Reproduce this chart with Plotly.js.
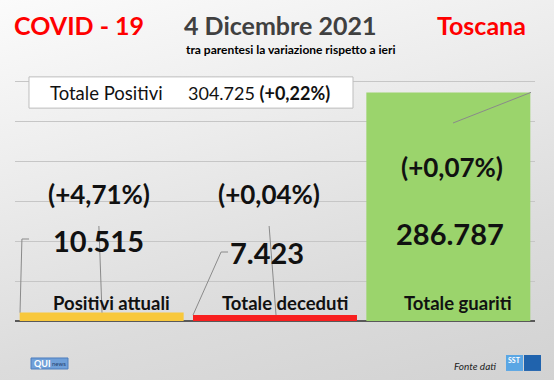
<!DOCTYPE html>
<html>
<head>
<meta charset="utf-8">
<script src="https://cdn.plot.ly/plotly-3.0.1.min.js"></script>
<style>
  html, body { margin: 0; padding: 0; }
  body { width: 554px; height: 380px; overflow: hidden;
         background: linear-gradient(165deg, #fbfbfb 0%, #ececec 35%, #dcdcdc 70%, #d2d2d2 100%); }
  #chart { width: 554px; height: 380px; }
</style>
</head>
<body>
<div id="chart"></div>
<script>
// ---- data ----
const categories = ['Positivi attuali', 'Totale deceduti', 'Totale guariti'];
const values = [10515, 7423, 286787];
const valueLabels = ['10.515', '7.423', '286.787'];
const variations = ['(+4,71%)', '(+0,04%)', '(+0,07%)'];
const barColors = ['#f8c83c', '#f81f1f', '#9bd46c'];
const totalLabel = 'Totale Positivi';
const totalValue = '304.725';
const totalVariation = '(+0,22%)';
const titleLeft = 'COVID - 19';
const titleDate = '4 Dicembre 2021';
const titleRegion = 'Toscana';
const subtitle = 'tra parentesi la variazione rispetto a ieri';

const FONT = 'Lato, "Open Sans", sans-serif';

const trace = {
  type: 'bar',
  x: categories,
  y: values,
  marker: { color: barColors, line: { width: 0 } },
  hoverinfo: 'skip'
};

const pctY = [0.455, 0.455, 0.552];
const pctShift = [-3, -6, 4];
const valY = [0.290, 0.247, 0.315];
const valShift = [-3, -8, 2];

function ann(o) { return Object.assign({ showarrow: false, xanchor: 'center', yanchor: 'middle' }, o); }

const annotations = [];
categories.forEach((c, i) => {
  annotations.push(ann({ x: c, xref: 'x', y: 0.0645, yref: 'paper', text: '<b>' + c + '</b>',
    xshift: 10, font: { family: FONT, size: 18.5, color: '#111' } }));
  annotations.push(ann({ x: c, xref: 'x', y: pctY[i], yref: 'paper', text: '<b>' + variations[i] + '</b>',
    xshift: pctShift[i], font: { family: FONT, size: 26, color: '#111' } }));
  annotations.push(ann({ x: c, xref: 'x', y: valY[i], yref: 'paper', text: '<b>' + valueLabels[i] + '</b>',
    xshift: valShift[i], font: { family: FONT, size: 29, color: '#111' } }));
});

annotations.push(
  ann({ x: 0.1231, y: 1.061, xref: 'paper', yref: 'paper', text: '<b>' + titleLeft + '</b>',
    font: { family: FONT, size: 25, color: '#ff0000' } }),
  ann({ x: 0.5087, y: 1.061, xref: 'paper', yref: 'paper', text: '<b>' + titleDate + '</b>',
    font: { family: FONT, size: 25, color: '#404040' } }),
  ann({ x: 0.8962, y: 1.061, xref: 'paper', yref: 'paper', text: '<b>' + titleRegion + '</b>',
    font: { family: FONT, size: 25, color: '#ff0000' } }),
  ann({ x: 0.5308, y: 0.974, xref: 'paper', yref: 'paper', text: '<b>' + subtitle + '</b>',
    font: { family: FONT, size: 12, color: '#000' } }),
  ann({ x: 0.176, y: 0.817, xref: 'paper', yref: 'paper', text: totalLabel,
    font: { family: FONT, size: 18.5, color: '#111' } }),
  ann({ x: 0.469, y: 0.817, xref: 'paper', yref: 'paper', text: totalValue + ' <b>' + totalVariation + '</b>',
    font: { family: FONT, size: 18, color: '#111' } }),
  ann({ x: 0.8837, y: -0.161, xref: 'paper', yref: 'paper', text: '<i>Fonte dati</i>',
    font: { family: FONT, size: 10, color: '#222' } }),
  ann({ x: 0.0520, y: -0.152, xref: 'paper', yref: 'paper', text: '<b>QUI</b>',
    font: { family: FONT, size: 9, color: '#ffffff' } }),
  ann({ x: 0.0850, y: -0.154, xref: 'paper', yref: 'paper', text: 'news',
    font: { family: FONT, size: 6, color: '#24406e' } }),
  ann({ x: 0.9605, y: -0.140, xref: 'paper', yref: 'paper', text: '<b>SST</b>',
    font: { family: FONT, size: 7, color: '#ffffff' } })
);

// leader lines (category units / data units)
const lineStyle = { color: '#8a8a8a', width: 1 };
const shapes = [
  { type: 'rect', xref: 'paper', yref: 'paper', x0: 0.0269, x1: 0.65, y0: 0.763, y1: 0.875,
    fillcolor: '#ffffff', line: { color: '#bdbdbd', width: 1 }, layer: 'above' },
  // Positivi attuali
  { type: 'line', xref: 'x', yref: 'y', x0: -0.460, x1: -0.419, y0: 102867, y1: 102867, line: lineStyle },
  { type: 'line', xref: 'x', yref: 'y', x0: -0.460, x1: -0.471, y0: 102867, y1: values[0], line: lineStyle },
  { type: 'line', xref: 'x', yref: 'y', x0: -0.016, x1: 0.002, y0: 119176, y1: values[0], line: lineStyle },
  // Totale deceduti
  { type: 'line', xref: 'x', yref: 'y', x0: 0.689, x1: 0.729, y0: 86559, y1: 86559, line: lineStyle },
  { type: 'line', xref: 'x', yref: 'y', x0: 0.689, x1: 0.527, y0: 86559, y1: values[1], line: lineStyle },
  { type: 'line', xref: 'x', yref: 'y', x0: 0.966, x1: 1.006, y0: 119176, y1: values[1], line: lineStyle },
  // Totale guariti
  { type: 'line', xref: 'x', yref: 'y', x0: 2.027, x1: 2.477, y0: 248387, y1: values[2], line: lineStyle },
  // logos
  { type: 'rect', xref: 'paper', yref: 'paper', x0: 0.0308, x1: 0.1019, y0: -0.172, y1: -0.1326,
    fillcolor: '#6f9fd8', line: { color: '#4d7dbd', width: 1 }, layer: 'above' },
  { type: 'rect', xref: 'paper', yref: 'paper', x0: 0.9442, x1: 0.9769, y0: -0.179, y1: -0.1219,
    fillcolor: '#5aa6e4', line: { width: 0 }, layer: 'above' },
  { type: 'rect', xref: 'paper', yref: 'paper', x0: 0.9788, x1: 1.0115, y0: -0.179, y1: -0.1219,
    fillcolor: '#2063ad', line: { width: 0 }, layer: 'above' }
];

const layout = {
  width: 554, height: 380,
  margin: { l: 15, r: 19, t: 42, b: 59, pad: 0 },
  paper_bgcolor: 'rgba(0,0,0,0)',
  plot_bgcolor: 'rgba(0,0,0,0)',
  showlegend: false,
  bargap: 0.054,
  xaxis: { type: 'category', range: [-0.5, 2.5], showgrid: false, showticklabels: false,
           ticks: '', zeroline: false, showline: false, fixedrange: true },
  yaxis: { range: [0, 350000], dtick: 50000, showgrid: true, gridcolor: '#c6c6c6', gridwidth: 1,
           showticklabels: false, ticks: '', zeroline: true, zerolinecolor: '#595959', zerolinewidth: 2,
           showline: false, fixedrange: true },
  annotations: annotations,
  shapes: shapes
};

Plotly.newPlot('chart', [trace], layout, { displayModeBar: false, staticPlot: true });
</script>
</body>
</html>
